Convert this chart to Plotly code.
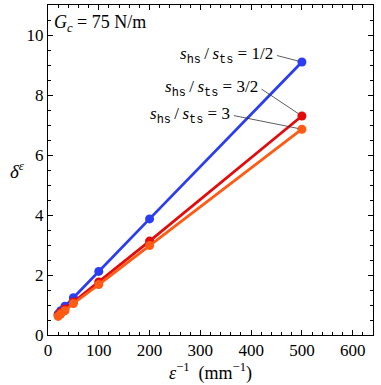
import plotly.graph_objects as go

# inverse element size eps^-1 (1/mm)
inv_eps = [20, 25, 33.3, 50, 100, 200, 500]

# delta^eps for the three s_hs/s_ts ratios
delta_half = [0.70, 0.81, 0.96, 1.24, 2.12, 3.87, 9.10]
delta_three_half = [0.66, 0.75, 0.87, 1.10, 1.77, 3.13, 7.30]
delta_three = [0.62, 0.70, 0.81, 1.05, 1.68, 2.98, 6.86]

series = [
    ("1/2", delta_half, "#2b3df2"),
    ("3/2", delta_three_half, "#e30b0b"),
    ("3", delta_three, "#ff5b14"),
]

# leader line offsets (px) from the last point to the label's right end
label_offsets = {"1/2": (-27, -7), "3/2": (-42, -28), "3": (-70, -14)}

FONT = "Liberation Serif"
MONO = "Liberation Mono"
THIN = "\u2009"

fig = go.Figure()
for name, ys, color in series:
    fig.add_trace(go.Scatter(
        x=inv_eps, y=ys, mode="lines+markers", name=name,
        line=dict(color=color, width=2.8),
        marker=dict(color=color, size=9),
        showlegend=False,
    ))
    ax, ay = label_offsets[name]
    fig.add_annotation(
        x=inv_eps[-1], y=ys[-1], ax=ax, ay=ay,
        text=(f"<i>s</i><sub><span style='font-family:{MONO}'>hs</span></sub>{THIN}/{THIN}"
              f"<i>s</i><sub><span style='font-family:{MONO}'>ts</span></sub> = {name}"),
        xanchor="right", yanchor="middle",
        showarrow=True, arrowhead=0, arrowwidth=0.8, arrowcolor="#333333",
        standoff=4, startstandoff=2,
        font=dict(family=FONT, size=17, color="black"),
    )

fig.add_annotation(
    x=0.012, y=0.945, xref="paper", yref="paper", xanchor="left", yanchor="middle",
    text="<i>G<sub>c</sub></i> = 75 N/m", showarrow=False,
    font=dict(family=FONT, size=18, color="black"),
)
fig.add_annotation(
    x=-0.095, y=0.5, xref="paper", yref="paper", xanchor="center", yanchor="middle",
    text="<i>δ</i><sup><i>ε</i></sup>", showarrow=False,
    font=dict(family=FONT, size=19, color="black"),
)

axis_style = dict(
    showgrid=False, zeroline=False, showline=True, linecolor="black", linewidth=1,
    mirror="ticks", ticks="inside", ticklen=5, tickcolor="black", tickwidth=1,
    tickfont=dict(family=FONT, size=17, color="black"),
    automargin=False,
)

fig.update_xaxes(
    range=[0, 640], dtick=100, tick0=0,
    minor=dict(ticks="inside", ticklen=3, dtick=20, tickcolor="black"),
    title=dict(text="<i>ε</i><sup>−1</sup>  (mm<sup>−1</sup>)", standoff=4,
               font=dict(family=FONT, size=18, color="black")),
    **axis_style,
)
fig.update_yaxes(
    range=[0, 11], dtick=2, tick0=0,
    minor=dict(ticks="inside", ticklen=3, dtick=0.5, tickcolor="black"),
    **axis_style,
)

fig.update_layout(
    width=381, height=385,
    margin=dict(l=48, r=8, t=5, b=50),
    plot_bgcolor="white", paper_bgcolor="white",
    font=dict(family=FONT, color="black"),
)

# drop the browser's default page margin so the figure sits at 0,0
fig.write_html("out.html", config={"displayModeBar": False},
               post_script="document.body.style.margin='0';")
